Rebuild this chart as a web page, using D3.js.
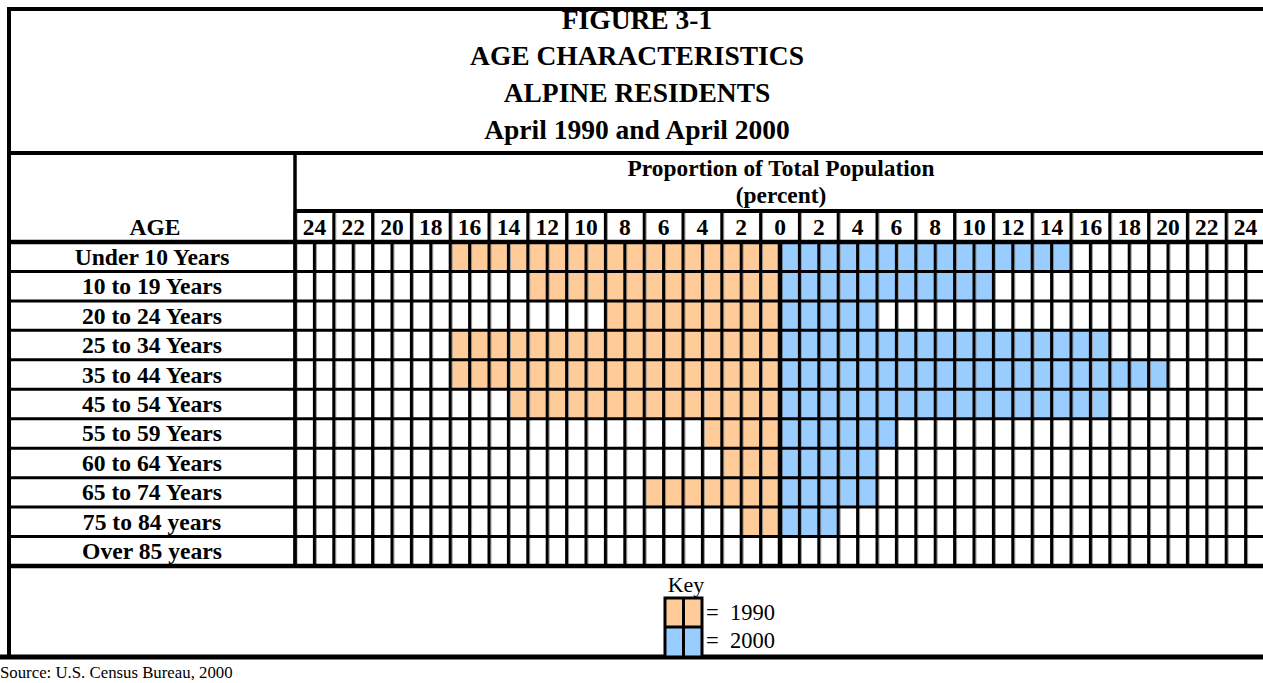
<!DOCTYPE html>
<html><head><meta charset="utf-8">
<script src="https://cdn.jsdelivr.net/npm/d3@7"></script>
<style>
body{margin:0;background:#fff}
svg{display:block}
text{font-family:"Liberation Serif","Times New Roman",serif;white-space:pre}
</style>
</head><body>
<svg id="c" width="1263" height="683"></svg>
<script>
// ---- data ----
const titleLines = ["FIGURE 3-1", "AGE CHARACTERISTICS", "ALPINE RESIDENTS", "April 1990 and April 2000"];
const ageGroups = ["Under 10 Years", "10 to 19 Years", "20 to 24 Years", "25 to 34 Years", "35 to 44 Years",
  "45 to 54 Years", "55 to 59 Years", "60 to 64 Years", "65 to 74 Years", "75 to 84 years", "Over 85 years"];
const values1990 = [17, 13, 9, 17, 17, 14, 4, 3, 7, 2, 0];
const values2000 = [15, 11, 5, 17, 20, 17, 6, 5, 5, 3, 0];
const tickValues = [-24, -22, -20, -18, -16, -14, -12, -10, -8, -6, -4, -2, 0, 2, 4, 6, 8, 10, 12, 14, 16, 18, 20, 22, 24];
const tickLabels = ["24","22","20","18","16","14","12","10","8","6","4","2","0","2","4","6","8","10","12","14","16","18","20","22","24"];
const axisTitle = ["Proportion of Total Population", "(percent)"];
const keyLabels = ["=\u00a0 1990", "=\u00a0 2000"];
const seriesColors = ["#FFCC99", "#99CCFF"];
const sourceText = "Source: U.S. Census Bureau, 2000";

// ---- layout ----
const W = 1263, H = 683;
const L = 9, T = 9;
const titleBottom = 153, headerMid = 211, gridTop = 242, gridBottom = 566, keyBottom = 657;
const labelRight = 295;

const svg = d3.select("#c");
const x = d3.scaleLinear().domain([-25, 25]).range([295, 1265]);
const y = d3.scaleBand().domain(ageGroups).range([gridTop, gridBottom]);

function txt(g, s, tx, ty, size, weight, anchor) {
  return g.append("text")
    .attr("x", tx).attr("y", ty)
    .attr("text-anchor", anchor || "middle")
    .attr("font-size", size).attr("font-weight", weight || "bold")
    .attr("fill", "#000").text(s);
}

// cells
const cells = svg.append("g");
ageGroups.forEach((a, r) => {
  for (let i = 1; i <= 25; i++) {
    cells.append("rect").attr("x", x(-i)).attr("y", y(a)).attr("width", x(-i + 1) - x(-i)).attr("height", y.bandwidth())
      .attr("fill", i <= values1990[r] ? seriesColors[0] : "#fff");
    cells.append("rect").attr("x", x(i - 1)).attr("y", y(a)).attr("width", x(i) - x(i - 1)).attr("height", y.bandwidth())
      .attr("fill", i <= values2000[r] ? seriesColors[1] : "#fff");
  }
});

const lines = svg.append("g").attr("stroke", "#000");
function hl(x1, x2, yy, w) { lines.append("line").attr("x1", x1).attr("x2", x2).attr("y1", yy).attr("y2", yy).attr("stroke-width", w); }
function vl(xx, y1, y2, w, col) { lines.append("line").attr("x1", xx).attr("x2", xx).attr("y1", y1).attr("y2", y2).attr("stroke-width", w).attr("stroke", col || "#000"); }

// grid shadows and lines
d3.range(-25, 26).forEach(k => vl(x(k) + 2, gridTop, gridBottom, 1, "#999"));
d3.range(-25, 26).forEach(k => vl(x(k), gridTop, gridBottom, k === 0 ? 4.5 : 3));
ageGroups.forEach((a, r) => { if (r > 0) hl(L, W, y(a), 3); });

// tick label row
d3.range(-25, 26, 2).forEach(k => { vl(x(k) + 2, headerMid, gridTop, 1, "#999"); vl(x(k), headerMid, gridTop, 3); });
hl(labelRight, W, headerMid, 4);
vl(labelRight, titleBottom, gridBottom, 3.5);

// borders
hl(L - 2, W, T, 4);
vl(L, T - 2, keyBottom + 2, 4);
hl(L, W, titleBottom, 4);
hl(L, W, gridTop, 4.5);
hl(L, W, gridBottom, 4.5);
hl(0, W, keyBottom, 5);

// text
const tg = svg.append("g");
const titleY = [29, 65, 102, 139];
titleLines.forEach((s, i) => txt(tg, s, 637, titleY[i], 27.5, "bold"));
txt(tg, axisTitle[0], 781, 176, 23.4, "bold");
txt(tg, axisTitle[1], 781, 203, 23.4, "bold");
txt(tg, "AGE", 155, 235, 23.5, "bold");
tickValues.forEach((v, i) => txt(tg, tickLabels[i], x(v), 235, 23.5, "bold"));
ageGroups.forEach(a => txt(tg, a, 152, y(a) + y.bandwidth() / 2 + 8, 23.6, "bold"));

// key
txt(tg, "Key", 686, 592, 22, "normal");
svg.append("rect").attr("x", 665).attr("y", 598).attr("width", 37).attr("height", 29).attr("fill", seriesColors[0]);
svg.append("rect").attr("x", 665).attr("y", 627).attr("width", 37).attr("height", 30).attr("fill", seriesColors[1]);
const kl = svg.append("g").attr("stroke", "#000");
kl.append("rect").attr("x", 665).attr("y", 598).attr("width", 37).attr("height", 59).attr("fill", "none").attr("stroke-width", 3);
kl.append("line").attr("x1", 665).attr("x2", 702).attr("y1", 627).attr("y2", 627).attr("stroke-width", 3);
kl.append("line").attr("x1", 683.5).attr("x2", 683.5).attr("y1", 598).attr("y2", 657).attr("stroke-width", 3);
txt(tg, keyLabels[0], 706, 620, 22.5, "normal", "start");
txt(tg, keyLabels[1], 706, 648, 22.5, "normal", "start");
txt(tg, sourceText, 0, 678, 16.8, "normal", "start");
</script>
</body></html>
